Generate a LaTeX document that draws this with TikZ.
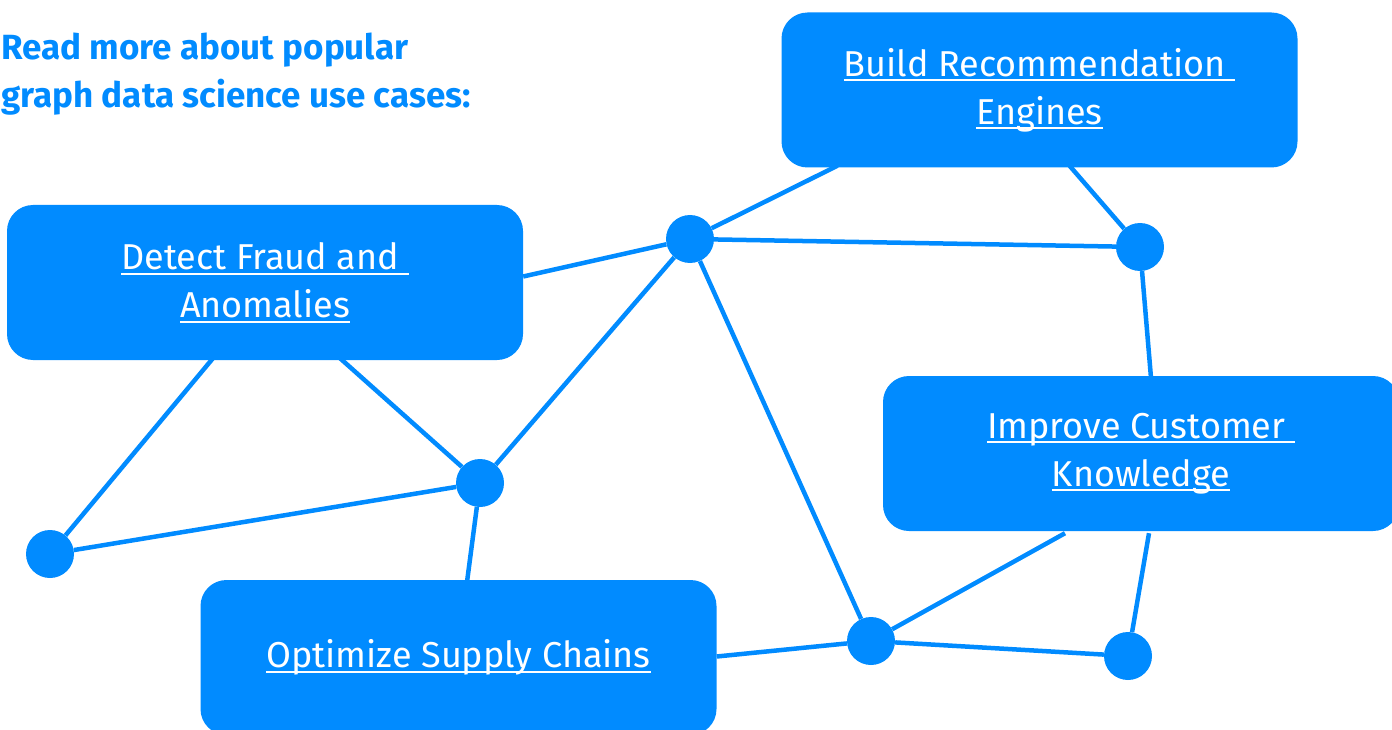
\documentclass[tikz,border=0pt]{standalone}
\usepackage{fontspec}
\setmainfont{Fira Sans}
\usetikzlibrary{positioning,calc}
\definecolor{neoblue}{HTML}{018BFF}
\pgfdeclarelayer{background}
\pgfsetlayers{background,main}
\newcommand{\lnk}[1]{\setbox0\hbox{#1}\rlap{\rule[-5pt]{\wd0}{2pt}}\box0}

\begin{document}
\begin{tikzpicture}[x=1pt, y=-1pt, case-node/.style={
                rectangle, fill=neoblue, text=white, rounded corners=26pt, minimum width=516pt, minimum height=155pt, align=center, font=\fontsize{36}{48}\selectfont},
                dot-node/.style={circle, fill=neoblue, minimum size=48pt, inner sep=0pt},
                link/.style={draw=neoblue, line width=4.5pt}]
                \useasboundingbox (0,0) rectangle (1392,730);
                \node[anchor=base west, align=left, inner sep=0pt, text=neoblue, font=\bfseries\fontsize{35}{48}\selectfont] (intro) at (1,108) {Read more about popular\\graph data science use cases:};
                \node[case-node] (detect) at (265,282.5) {\lnk{Detect Fraud and\ }\\\lnk{Anomalies}};
                \node[case-node] (build) at (1039.5,90) {\lnk{Build Recommendation\ }\\\lnk{Engines}};
                \node[case-node] (improve) at (1141,453.5) {\lnk{Improve Customer\ }\\\lnk{Knowledge}};
                \node[case-node] (optimize) at (458.5,657.5) {\lnk{Optimize Supply Chains}};
                \node[dot-node] (hub) at (690,239) {};
                \node[dot-node] (rim) at (1140,247) {};
                \node[dot-node] (mid) at (480,483) {};
                \node[dot-node] (far) at (50,554) {};
                \node[dot-node] (low) at (871,641) {};
                \node[dot-node] (tip) at (1128,656) {};
                \begin{pgfonlayer}{background}
                \draw[link] ([yshift=6pt]detect.east) -- (hub);
                \draw[link] ([xshift=-202pt,yshift=2pt]build.south) -- (hub);
                \draw[link] ([xshift=30pt,yshift=2pt]build.south) -- (rim);
                \draw[link] (hub) -- (rim);
                \draw[link] (rim) -- ([xshift=10pt,yshift=-2pt]improve.north);
                \draw[link] (hub) -- (mid);
                \draw[link] (hub) -- (low);
                \draw[link] ([xshift=-52pt,yshift=2pt]detect.south) -- (far);
                \draw[link] ([xshift=75pt,yshift=2pt]detect.south) -- (mid);
                \draw[link] (far) -- (mid);
                \draw[link] (mid) -- ([xshift=8pt,yshift=-6pt]optimize.north);
                \draw[link] ([yshift=1pt]optimize.east) -- (low);
                \draw[link] (low) -- ([xshift=-76pt,yshift=-2pt]improve.south);
                \draw[link] (low) -- (tip);
                \draw[link] ([xshift=8pt,yshift=-2pt]improve.south) -- (tip);
                \end{pgfonlayer}
            \end{tikzpicture}
\end{document}
